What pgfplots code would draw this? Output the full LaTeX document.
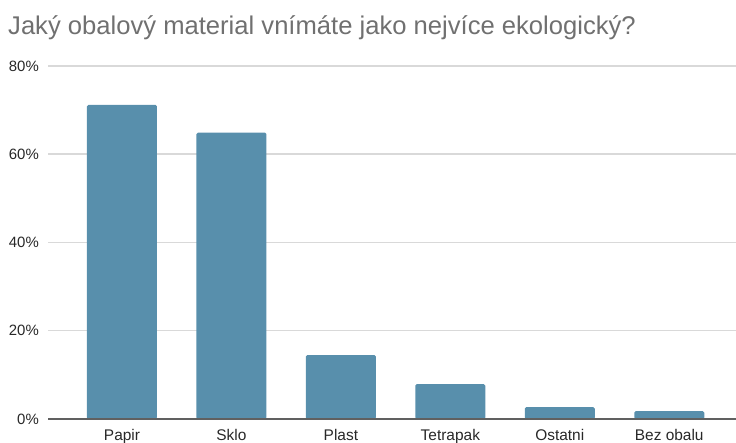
\documentclass[border=0pt]{standalone}
\usepackage{pgfplots}
\pgfplotsset{compat=1.18}
\usepackage{fontspec}
\setmainfont{Liberation Sans}
\definecolor{barblue}{RGB}{88,143,172}
\definecolor{gridgray}{RGB}{217,217,217}
\definecolor{titlegray}{RGB}{112,112,112}
\definecolor{labelgray}{RGB}{40,40,40}
\begin{document}
\begin{tikzpicture}[x=1bp,y=1bp]
\path[use as bounding box] (0,0) rectangle (736,443);
\node[anchor=base west, text=titlegray, font=\fontsize{25.7}{30}\selectfont, inner sep=0pt]
  at (8,408) {Jaký obalový material vnímáte jako nejvíce ekologický?};
\begin{axis}[
  at={(48bp,24bp)}, anchor=south west,
  scale only axis, width=688bp, height=353bp,
  xmin=-0.676, xmax=5.61, ymin=0, ymax=80,
  axis line style={draw=none},
  xtick={0,1,2,3,4,5},
  xticklabels={Papir,Sklo,Plast,Tetrapak,Ostatni,Bez obalu},
  ytick={0,20,40,60,80},
  yticklabel={\pgfmathprintnumber{\tick}\%},
  /pgf/number format/assume math mode=true,
  tick style={draw=none},
  ymajorgrids, grid style={gridgray, line width=1.5pt},
  ticklabel style={text=labelgray},
  yticklabel style={font=\fontsize{15}{18}\selectfont, anchor=east, inner sep=0pt, xshift=-9bp},
  xticklabel style={font=\fontsize{15.5}{18}\selectfont, anchor=base, inner sep=0pt, yshift=-21.5bp},
  clip=false,
]
\addplot[ybar, bar width=70bp, fill=barblue, draw=none, rounded corners=1.5bp] coordinates {
  (0,71.2) (1,64.9) (2,14.5) (3,7.9) (4,2.7) (5,1.8)
};
\draw[gray!75!black, line width=1.2pt] (axis cs:-0.676,0) -- (axis cs:5.61,0);
\end{axis}
\end{tikzpicture}
\end{document}
